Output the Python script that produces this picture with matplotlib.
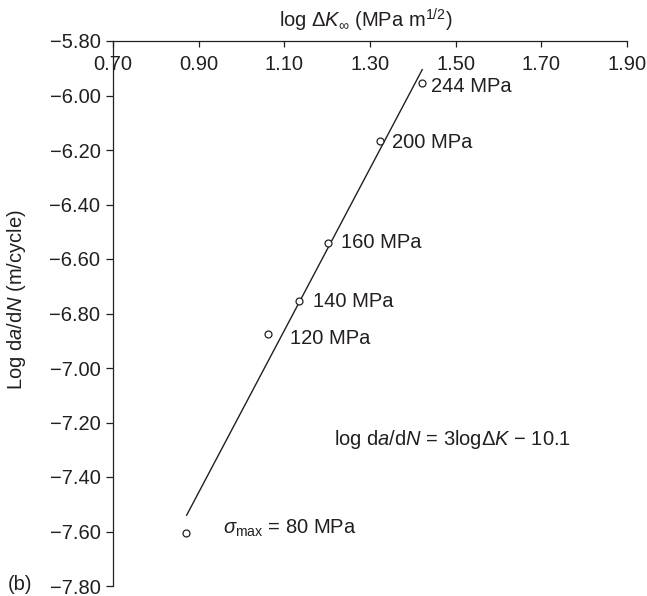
import matplotlib
matplotlib.use("Agg")
import matplotlib.pyplot as plt

# data
log_dk = [0.870, 1.062, 1.135, 1.202, 1.323, 1.422]
log_dadn = [-7.607, -6.875, -6.755, -6.541, -6.167, -5.955]
point_labels = [r"$\sigma_{\rm max}$ = 80 MPa", "120 MPa", "140 MPa",
                "160 MPa", "200 MPa", "244 MPa"]
fit_x = [0.872, 1.422]
fit_y = [-7.54, -5.905]
x_ticks = [0.70, 0.90, 1.10, 1.30, 1.50, 1.70, 1.90]
y_ticks = [-5.80, -6.00, -6.20, -6.40, -6.60, -6.80, -7.00, -7.20, -7.40, -7.60, -7.80]

INK = "#231f20"
FS = 14.5
plt.rcParams.update({
    "font.family": ["Liberation Sans", "DejaVu Sans"],
    "font.size": FS,
    "mathtext.fontset": "custom",
    "mathtext.rm": "Liberation Sans",
    "mathtext.it": "Liberation Sans:italic",
    "mathtext.bf": "Liberation Sans:bold",
    "text.color": INK,
    "axes.edgecolor": INK,
    "xtick.color": INK,
    "ytick.color": INK,
    "axes.labelcolor": INK,
})

fig = plt.figure(figsize=(6.47, 5.96), dpi=100)
ax = fig.add_axes([113 / 647, 10 / 596, (627 - 113) / 647, (586 - 41) / 596])

ax.plot(fit_x, fit_y, color=INK, linewidth=1.0)
ax.plot(log_dk, log_dadn, linestyle="none", marker="o", markersize=5,
        markerfacecolor="white", markeredgecolor=INK, markeredgewidth=0.9)

# label offsets in points (dx, dy) from each point
offsets = [(27, 4), (16, -3), (10, 0), (9, 0), (9, -1), (6, -2)]
for x, y, lab, (dx, dy) in zip(log_dk, log_dadn, point_labels, offsets):
    ax.annotate(lab, (x, y), xytext=(dx, dy), textcoords="offset points",
                ha="left", va="center", fontsize=FS)

ax.text(1.216, -7.264, r"log d$\it{a}$/d$\it{N}$ = 3log$\Delta\it{K}$ $-$ 10.1",
        ha="left", va="center", fontsize=FS)

ax.set_xlim(0.70, 1.90)
ax.set_ylim(-7.80, -5.80)
ax.set_xticks(x_ticks)
ax.set_xticklabels([f"{v:.2f}" for v in x_ticks])
ax.set_yticks(y_ticks)
ax.set_yticklabels([f"\u2212{abs(v):.2f}" for v in y_ticks])

# x axis line sits at the top of the plot, ticks and labels hang below it
ax.spines["bottom"].set_position(("data", -5.80))
ax.spines["top"].set_visible(False)
ax.spines["right"].set_visible(False)
ax.spines["left"].set_bounds(-7.80, -5.80)
ax.tick_params(axis="x", direction="out", length=4, width=0.9, pad=6, labelsize=FS)
ax.tick_params(axis="y", direction="out", length=5, width=0.9, pad=4, labelsize=FS)
for s in ax.spines.values():
    s.set_linewidth(0.9)

fig.text(366 / 647, 1 - 20 / 596, r"log $\Delta\it{K}_{\infty}$ (MPa m$^{1/2}$)",
         ha="center", va="center", fontsize=FS)
fig.text(17 / 647, 1 - 300 / 596, r"Log d$\it{a}$/d$\it{N}$ (m/cycle)",
         rotation=90, ha="center", va="center", fontsize=FS)
fig.text(8 / 647, 1 - 584 / 596, "(b)", ha="left", va="center", fontsize=FS)

fig.savefig("out.png", dpi=100, facecolor="white")
